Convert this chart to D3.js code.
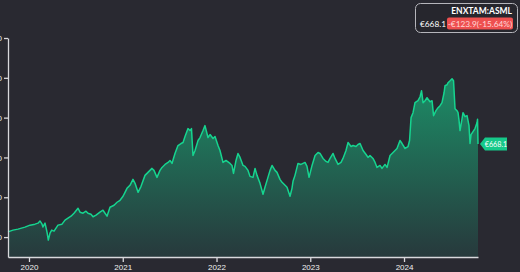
<!DOCTYPE html>
<html>
<head>
<meta charset="utf-8">
<script src="https://cdn.jsdelivr.net/npm/d3@7"></script>
<style>
  html, body {
    margin: 0;
    padding: 0;
    background: #292931;
  }
  svg {
    display: block;
    font-family: Lato, "Noto Sans", sans-serif;
  }
  .axis path,
  .axis line {
    stroke: #d8d8dc;
    stroke-width: 1.3px;
  }
  .axis text {
    fill: #f0f0f0;
    font-size: 8px;
  }
</style>
</head>
<body>
<svg id="chart" width="520" height="272"></svg>
<script>
// ticker / summary
const ticker = "ENXTAM:ASML";
const lastPrice = 668.1;
const change = -123.9;
const changePct = -15.64;

// axis ticks
const yearTicks = [2020, 2021, 2022, 2023, 2024];
const priceTicks = [200, 400, 600, 800, 1000, 1200];

// time as decimal years, price in EUR
const times = [
  2019.776, 2019.829, 2019.883, 2019.957, 2020.011, 2020.064, 2020.096, 2020.117,
  2020.139, 2020.149, 2020.171, 2020.192, 2020.206, 2020.224, 2020.242, 2020.267,
  2020.309, 2020.352, 2020.384, 2020.416, 2020.448, 2020.480, 2020.523, 2020.544,
  2020.576, 2020.608, 2020.629, 2020.661, 2020.683, 2020.715, 2020.757, 2020.789,
  2020.832, 2020.864, 2020.907, 2020.939, 2020.971, 2021.003, 2021.024, 2021.045,
  2021.077, 2021.109, 2021.131, 2021.163, 2021.195, 2021.237, 2021.269, 2021.312,
  2021.333, 2021.365, 2021.397, 2021.419, 2021.451, 2021.483, 2021.504, 2021.525,
  2021.557, 2021.589, 2021.621, 2021.643, 2021.664, 2021.696, 2021.717, 2021.733,
  2021.749, 2021.771, 2021.803, 2021.824, 2021.856, 2021.877, 2021.909, 2021.931,
  2021.963, 2021.984, 2022.016, 2022.037, 2022.069, 2022.101, 2022.144, 2022.165,
  2022.181, 2022.208, 2022.229, 2022.251, 2022.283, 2022.304, 2022.336, 2022.357,
  2022.389, 2022.411, 2022.432, 2022.464, 2022.496, 2022.517, 2022.539, 2022.571,
  2022.592, 2022.624, 2022.645, 2022.677, 2022.699, 2022.731, 2022.752, 2022.784,
  2022.805, 2022.816, 2022.837, 2022.869, 2022.901, 2022.944, 2022.965, 2022.987,
  2023.019, 2023.051, 2023.083, 2023.104, 2023.136, 2023.168, 2023.189, 2023.211,
  2023.243, 2023.264, 2023.296, 2023.328, 2023.349, 2023.381, 2023.403, 2023.435,
  2023.456, 2023.488, 2023.509, 2023.531, 2023.563, 2023.595, 2023.616, 2023.637,
  2023.669, 2023.691, 2023.712, 2023.744, 2023.765, 2023.797, 2023.819, 2023.851,
  2023.883, 2023.904, 2023.925, 2023.957, 2023.979, 2024.011, 2024.043, 2024.059,
  2024.075, 2024.096, 2024.117, 2024.149, 2024.171, 2024.187, 2024.203, 2024.224,
  2024.245, 2024.277, 2024.299, 2024.315, 2024.341, 2024.363, 2024.384, 2024.405,
  2024.427, 2024.437, 2024.459, 2024.469, 2024.491, 2024.512, 2024.528, 2024.544,
  2024.565, 2024.576, 2024.587, 2024.597, 2024.619, 2024.629, 2024.651, 2024.672,
  2024.693, 2024.704, 2024.715, 2024.736, 2024.757, 2024.779, 2024.784, 2024.789
];
const prices = [
  226, 235, 240, 250, 260, 265, 270, 281,
  265, 251, 270, 225, 185, 220, 235, 230,
  260, 265, 285, 295, 305, 320, 345, 325,
  320, 330, 320, 315, 302, 310, 325, 335,
  305, 350, 360, 375, 385, 405, 425, 445,
  460, 490, 470, 425, 455, 510, 525, 545,
  535, 500, 535, 550, 565, 575, 585, 570,
  620, 660, 670, 675, 705, 745, 735, 745,
  610, 635, 685, 700, 735, 760, 700, 715,
  695, 705, 660, 635, 575, 585, 570, 560,
  520, 585, 620, 600, 560, 555, 535, 505,
  500, 545, 510, 470, 415, 450, 485, 535,
  560, 535, 525, 490, 475, 460, 450, 405,
  445, 480, 510, 570, 565, 575, 555, 500,
  560, 610, 625, 620, 595, 580, 575, 595,
  620, 595, 565, 575, 595, 635, 675, 655,
  660, 655, 665, 670, 635, 615, 600, 610,
  595, 575, 550, 560, 545, 565, 550, 610,
  625, 635, 645, 685, 670, 645, 655, 685,
  800, 825, 875, 885, 905, 935, 875, 885,
  900, 880, 885, 810, 835, 850, 860, 875,
  925, 960, 965, 975, 985, 995, 985, 845,
  835, 825, 785, 735, 795, 825, 805, 810,
  760, 670, 715, 730, 745, 775, 792, 668.1
];

const data = times.map((t, i) => ({ t, v: prices[i] }));

const svg = d3.select("#chart");

const x = d3.scaleLinear()
  .domain([times[0], times[times.length - 1]])
  .range([8, 478]);

const y = d3.scaleLinear()
  .domain([100, 1200])
  .range([257, 38]);

//=== gradient fill ===
const defs = svg.append("defs");
const grad = defs.append("linearGradient")
  .attr("id", "area-grad")
  .attr("gradientUnits", "userSpaceOnUse")
  .attr("x1", 0).attr("x2", 0)
  .attr("y1", y(1000)).attr("y2", y(100));
grad.append("stop").attr("offset", "0%").attr("stop-color", "#1c8e67");
grad.append("stop").attr("offset", "100%").attr("stop-color", "#27393c");

const area = d3.area()
  .x((d) => x(d.t))
  .y0(y(100))
  .y1((d) => y(d.v));

const line = d3.line()
  .x((d) => x(d.t))
  .y((d) => y(d.v));

svg.append("path")
  .datum(data)
  .attr("fill", "url(#area-grad)")
  .attr("d", area);

svg.append("path")
  .datum(data)
  .attr("fill", "none")
  .attr("stroke", "#16d48f")
  .attr("stroke-width", 1.5)
  .attr("stroke-linejoin", "round")
  .attr("d", line);

//=== axes ===
svg.append("g")
  .attr("class", "axis")
  .attr("transform", `translate(0,${y(100)})`)
  .call(d3.axisBottom(x).tickValues(yearTicks).tickFormat(d3.format("d"))
    .tickSizeInner(5).tickSizeOuter(0).tickPadding(2));

svg.append("g")
  .attr("class", "axis")
  .attr("transform", `translate(${x(times[0])},0)`)
  .call(d3.axisLeft(y).tickValues(priceTicks).tickSizeInner(4).tickSizeOuter(0).tickPadding(2));

//=== last price tag ===
const lx = x(times[times.length - 1]);
const ly = y(lastPrice);
const tag = svg.append("g").attr("transform", `translate(${lx},${ly})`);
tag.append("path")
  .attr("d", "M2,0 L7,-6.5 L29,-6.5 L29,6.5 L7,6.5 Z")
  .attr("fill", "#16c98a");
tag.append("text")
  .attr("x", 18)
  .attr("y", 2.6)
  .attr("text-anchor", "middle")
  .attr("fill", "#ffffff")
  .attr("font-size", 7.2)
  .text(`€${lastPrice.toFixed(1)}`);

//=== info box ===
const box = svg.append("g");
box.append("rect")
  .attr("x", 415.5).attr("y", 3.5)
  .attr("width", 102).attr("height", 29)
  .attr("rx", 5)
  .attr("fill", "#26262d")
  .attr("stroke", "#b5b5bb")
  .attr("stroke-width", 1);
box.append("text")
  .attr("x", 512).attr("y", 14)
  .attr("text-anchor", "end")
  .attr("fill", "#ffffff")
  .attr("font-weight", "bold")
  .attr("font-size", 8.5)
  .text(ticker);
box.append("text")
  .attr("x", 420).attr("y", 26.5)
  .attr("fill", "#ffffff")
  .attr("font-size", 8.3)
  .text(`€${lastPrice.toFixed(1)}`);
box.append("rect")
  .attr("x", 447).attr("y", 17.5)
  .attr("width", 66).attr("height", 12)
  .attr("rx", 2)
  .attr("fill", "#ee5050");
box.append("text")
  .attr("x", 480).attr("y", 26.5)
  .attr("text-anchor", "middle")
  .attr("fill", "#ffd9d9")
  .attr("font-size", 8.3)
  .text(`-€${Math.abs(change).toFixed(1)}(${changePct.toFixed(2)}%)`);
</script>
</body>
</html>
